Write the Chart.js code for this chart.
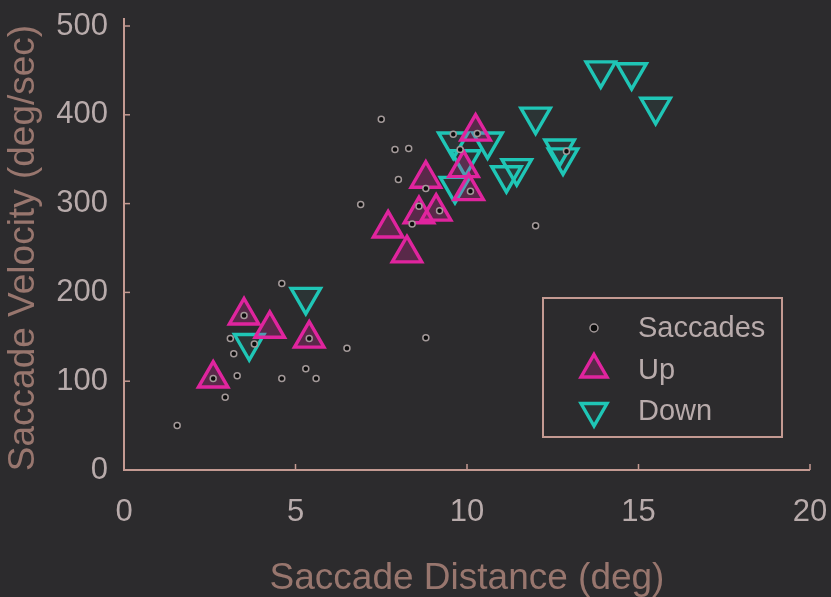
<!DOCTYPE html>
<html>
<head>
<meta charset="utf-8">
<script src="https://cdn.jsdelivr.net/npm/chart.js@4/dist/chart.umd.min.js"></script>
<style>
  html,body{margin:0;padding:0;background:#2c2b2d;}
  #wrap{width:831px;height:597px;position:relative;}
</style>
</head>
<body>
<div id="wrap"><canvas id="c" width="831" height="597"></canvas></div>
<script>
// ---- data ----
const seriesNames = ["Saccades", "Up", "Down"];
const xTicks = [0, 5, 10, 15, 20];
const yTicks = [0, 100, 200, 300, 400, 500];

const saccadeX = [1.55, 2.95, 3.2, 3.1, 3.3, 4.6, 5.3, 5.6, 6.5, 4.6, 3.5, 2.6, 5.4, 8.8, 12.0, 8.4, 7.9, 8.3, 8.0, 6.9, 7.5, 8.8, 8.6, 9.2, 9.6, 10.1, 9.8, 12.9, 10.3, 3.8];
const saccadeY = [50, 82, 131, 148, 106, 103, 114, 103, 137, 210, 174, 103, 148, 149, 275, 277, 361, 362, 327, 299, 395, 317, 297, 292, 378, 314, 361, 359, 379, 142];

const upX = [7.7, 8.25, 8.8, 8.6, 9.1, 10.05, 10.25, 9.9, 3.5, 4.25, 5.4, 2.6];
const upY = [272, 244, 328, 288, 291, 314, 381, 340, 174, 159, 148, 103];

const downX = [13.9, 14.8, 15.5, 12.0, 12.7, 12.8, 11.45, 11.15, 10.6, 9.6, 9.95, 9.65, 5.3, 3.65];
const downY = [450, 448, 409, 398, 362, 352, 340, 332, 370, 370, 350, 320, 195, 143];

const toPts = (xs, ys) => xs.map((x, i) => ({x: x, y: ys[i]}));

const BG = '#2c2b2d';
const AXIS = '#c49a92';
const TICKTXT = '#b8abab';
const TITLETXT = '#98766e';
const FONT = '"Liberation Sans", Arial, sans-serif';

const styles = [
  {pointStyle: 'circle', radius: 3, backgroundColor: '#0c0c0c', borderColor: '#a49a9a', borderWidth: 1.5, rotation: 0},
  {pointStyle: 'triangle', radius: 17, backgroundColor: 'rgba(225,35,160,0.25)', borderColor: '#e0249e', borderWidth: 3.4, rotation: 0},
  {pointStyle: 'triangle', radius: 17, backgroundColor: 'rgba(30,200,185,0.06)', borderColor: '#1fc6b6', borderWidth: 3.4, rotation: 180}
];

const bgPlugin = {
  id: 'bg',
  beforeDraw(chart) {
    const ctx = chart.ctx;
    ctx.save();
    ctx.fillStyle = BG;
    ctx.fillRect(0, 0, chart.width, chart.height);
    ctx.restore();
  },
  afterDatasetsDraw(chart) {
    const ctx = chart.ctx;
    const xs = chart.scales.x, ys = chart.scales.y;
    const a = chart.chartArea;
    ctx.save();
    ctx.strokeStyle = AXIS;
    ctx.lineWidth = 2;
    // axis lines
    ctx.beginPath();
    ctx.moveTo(a.left, a.top - 8);
    ctx.lineTo(a.left, a.bottom);
    ctx.lineTo(a.right, a.bottom);
    ctx.stroke();
    // inward ticks
    ctx.lineWidth = 1.5;
    xTicks.forEach(v => {
      const px = xs.getPixelForValue(v);
      ctx.beginPath(); ctx.moveTo(px, a.bottom); ctx.lineTo(px, a.bottom - 6); ctx.stroke();
    });
    yTicks.forEach(v => {
      const py = ys.getPixelForValue(v);
      ctx.beginPath(); ctx.moveTo(a.left, py); ctx.lineTo(a.left + 6, py); ctx.stroke();
    });
    // legend box
    const bx = a.right - 267;
    const by = a.bottom - 172;
    const bw = 239, bh = 139;
    ctx.fillStyle = BG;
    ctx.fillRect(bx, by, bw, bh);
    ctx.strokeStyle = AXIS;
    ctx.lineWidth = 2;
    ctx.strokeRect(bx, by, bw, bh);
    ctx.font = '29px ' + FONT;
    ctx.textBaseline = 'middle';
    ctx.textAlign = 'left';
    seriesNames.forEach((name, i) => {
      const ey = by + 30 + i * 41.5;
      const s = styles[i];
      ctx.fillStyle = s.backgroundColor;
      ctx.strokeStyle = s.borderColor;
      ctx.lineWidth = s.borderWidth;
      Chart.helpers.drawPoint(ctx, {pointStyle: s.pointStyle, radius: i === 0 ? 4 : 15, rotation: s.rotation, borderWidth: s.borderWidth}, bx + 51, ey);
      ctx.fillStyle = TICKTXT;
      ctx.fillText(name, bx + 95, ey + 1);
    });
    ctx.restore();
  }
};

const datasets = [
  Object.assign({label: seriesNames[0], data: toPts(saccadeX, saccadeY)}, styles[0]),
  Object.assign({label: seriesNames[1], data: toPts(upX, upY)}, styles[1]),
  Object.assign({label: seriesNames[2], data: toPts(downX, downY)}, styles[2])
];
datasets.forEach(d => { d.pointRadius = d.radius; d.pointRotation = d.rotation; d.pointBackgroundColor = d.backgroundColor; d.pointBorderColor = d.borderColor; d.pointBorderWidth = d.borderWidth; d.pointHoverRadius = d.radius; d.clip = false; });

new Chart(document.getElementById('c'), {
  type: 'scatter',
  data: {datasets: datasets},
  plugins: [bgPlugin],
  options: {
    responsive: false,
    animation: false,
    events: [],
    layout: {padding: {top: 26, right: 21, left: 0, bottom: 0}},
    plugins: {legend: {display: false}, tooltip: {enabled: false}},
    scales: {
      x: {
        type: 'linear', min: 0, max: 20,
        afterBuildTicks: s => { s.ticks = xTicks.map(v => ({value: v})); },
        grid: {display: false, drawTicks: false},
        border: {display: false},
        ticks: {color: TICKTXT, font: {family: FONT, size: 31}, padding: 24, maxRotation: 0},
        title: {display: true, text: 'Saccade Distance (deg)', color: TITLETXT, font: {family: FONT, size: 37, lineHeight: 1}, padding: {top: 0, bottom: 0}},
        afterFit: s => { s.height = 127; s.paddingLeft = 0; s.paddingRight = 0; }
      },
      y: {
        type: 'linear', min: 0, max: 500,
        afterBuildTicks: s => { s.ticks = yTicks.map(v => ({value: v})); },
        grid: {display: false, drawTicks: false},
        border: {display: false},
        ticks: {color: TICKTXT, font: {family: FONT, size: 31}, padding: 16},
        title: {display: true, text: 'Saccade Velocity (deg/sec)', color: TITLETXT, font: {family: FONT, size: 37}, padding: {top: 2, bottom: 0}},
        afterFit: s => { s.width = 124; s.paddingTop = 0; s.paddingBottom = 0; }
      }
    }
  }
});
</script>
</body>
</html>
